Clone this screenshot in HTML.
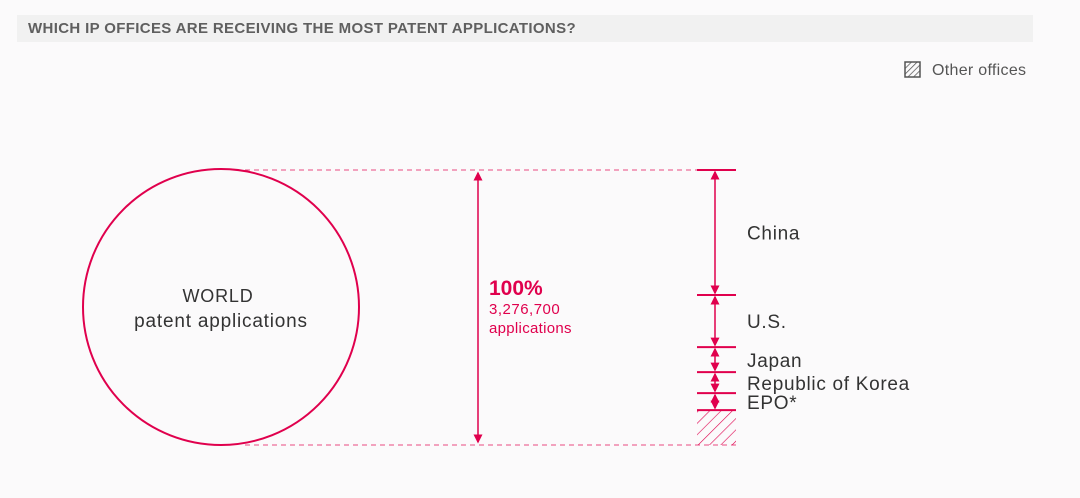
<!DOCTYPE html>
<html><head><meta charset="utf-8"><style>
body{margin:0;width:1080px;height:498px;background:#fbfafb;font-family:"Liberation Sans",sans-serif;overflow:hidden;position:relative}
.hdr{position:absolute;left:17px;top:15px;width:1016px;height:27px;background:#f1f1f1;color:#5f5f5f;font-weight:bold;font-size:15px;letter-spacing:0.35px;line-height:27px;padding-left:11px;box-sizing:border-box}
</style></head><body>
<div class="hdr">WHICH IP OFFICES ARE RECEIVING THE MOST PATENT APPLICATIONS?</div>
<svg width="1080" height="498" style="position:absolute;left:0;top:0" id="chart">
<defs><pattern id="hatch" width="8" height="8" patternUnits="userSpaceOnUse" patternTransform="rotate(45)"><line x1="0" y1="0" x2="0" y2="8" stroke="#e0004d" stroke-width="1.2"/></pattern>
<pattern id="hatchg" width="4" height="4" patternUnits="userSpaceOnUse" patternTransform="rotate(45)"><line x1="0" y1="0" x2="0" y2="4" stroke="#555" stroke-width="1.5"/></pattern>
<marker id="ah" markerWidth="6" markerHeight="6" refX="5" refY="3" orient="auto-start-reverse"><path d="M0,0 L6,3 L0,6 z" fill="#e0004d"/></marker></defs>
<g>
<rect x="905" y="62" width="15" height="15" fill="url(#hatchg)" stroke="#555" stroke-width="1.5"/>
<text x="932" y="75" font-size="16" letter-spacing="0.3" fill="#555">Other offices</text></g>
<circle cx="221" cy="307" r="138" fill="none" stroke="#e0004d" stroke-width="2"/>
<text x="218" y="302" font-size="18" letter-spacing="0.8" fill="#333" text-anchor="middle">WORLD</text>
<text x="221" y="327" font-size="19" letter-spacing="0.8" fill="#333" text-anchor="middle">patent applications</text>
<line x1="245" y1="170" x2="470" y2="170" stroke="#e0004d" stroke-dasharray="5,4" opacity=".7"/>
<line x1="245" y1="445" x2="470" y2="445" stroke="#e0004d" stroke-dasharray="5,4" opacity=".7"/>
<line x1="470" y1="170" x2="736" y2="170" stroke="#e0004d" stroke-dasharray="5,4" opacity=".7"/>
<line x1="470" y1="445" x2="736" y2="445" stroke="#e0004d" stroke-dasharray="5,4" opacity=".7"/>
<line x1="478" y1="173" x2="478" y2="442" stroke="#e0004d" stroke-width="1.5" marker-start="url(#ah)" marker-end="url(#ah)"/>
<text x="489" y="295" font-size="21" font-weight="bold" fill="#e0004d">100%</text>
<text x="489" y="314" font-size="15" letter-spacing="0.5" fill="#e0004d">3,276,700</text>
<text x="489" y="333" font-size="15" letter-spacing="0.3" fill="#e0004d">applications</text>
<g id="stack"></g>
</svg>
<script>
const offices=["China","U.S.","Japan","Republic of Korea","EPO*"];
const counts=[1490000,620000,298000,250000,203000];
const total=3276700;
const top0=170,h=275;
function y(v){return top0+v/total*h;}
const g=document.getElementById('stack');
const NS='http://www.w3.org/2000/svg';
function mk(t,a){const e=document.createElementNS(NS,t);for(const k in a)e.setAttribute(k,a[k]);g.appendChild(e);return e;}
let cum=0;
const labelY=[239,330,367,390,409];
mk('line',{x1:697,y1:y(0),x2:736,y2:y(0),stroke:'#e0004d','stroke-width':2});
offices.forEach((n,i)=>{
 const y0=y(cum);cum+=counts[i];const y1=y(cum);
 const l=mk('line',{x1:697,y1:y1,x2:736,y2:y1,stroke:'#e0004d','stroke-width':2});
 
 
 const a=mk('line',{x1:715,y1:y0+2,x2:715,y2:y1-2,stroke:'#e0004d','stroke-width':1.5,'marker-start':'url(#ah)','marker-end':'url(#ah)'});
 
 
 let ly=(y0+y1)/2+7;
 if(i>=2) ly=labelY[i];
 const t=mk('text',{x:747,y:ly,'font-size':19,'letter-spacing':0.7,fill:'#333'});
 t.textContent=n;
 
 
});
const r=mk('rect',{x:697,y:y(cum),width:39,height:Math.max(0,y(total)-y(cum)),fill:'url(#hatch)'});


</script>
</body></html>
